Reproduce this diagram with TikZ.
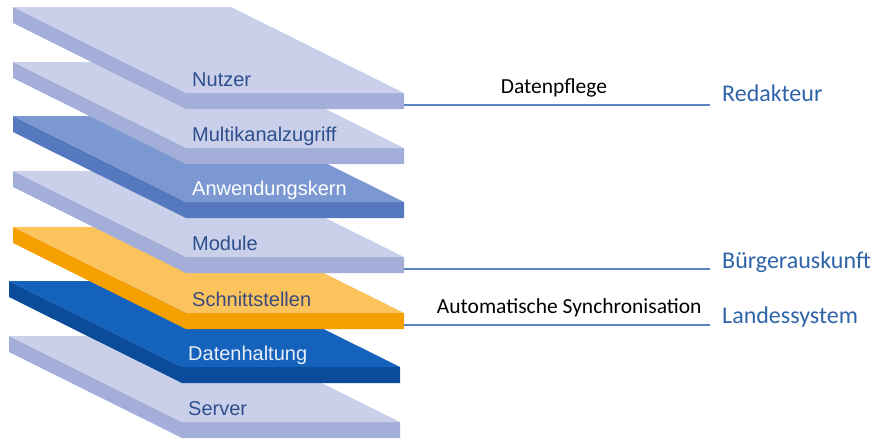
\documentclass[tikz,border=0pt]{standalone}
\usepackage{fontspec}
\setmainfont{Liberation Sans}
\newfontfamily\calibrifont{Carlito}
\definecolor{lightTop}{HTML}{CBD0EA}
\definecolor{lightSide}{HTML}{A4AFD9}
\definecolor{midTop}{HTML}{7B98D3}
\definecolor{midSide}{HTML}{5578BE}
\definecolor{orTop}{HTML}{FBC35C}
\definecolor{orSide}{HTML}{F5A000}
\definecolor{dkTop}{HTML}{1562BC}
\definecolor{dkSide}{HTML}{0A4C9A}
\definecolor{labBlue}{HTML}{2D4F8E}
\definecolor{labOr}{HTML}{3B4A7A}
\definecolor{labDk}{HTML}{E8EEF8}
\definecolor{connCol}{HTML}{5B84C4}
\definecolor{actorCol}{HTML}{2E64A8}
\newcommand{\drawslab}[7]{%
  \fill[#5] (#2,#3) -- ++(173,86) -- ++(218,0) -- ++(0,16) -- ++(-218,0) -- ++(-173,-86) -- cycle;
  \fill[#4] (#2,#3) -- ++(218,0) -- ++(173,86) -- ++(-218,0) -- cycle;
  \node[laytext, text=#6] (#1) at (#2+179,#3+79) {#7};
  \coordinate (#1R) at (#2+391,#3+98);
}
\begin{document}
\begin{tikzpicture}[x=1pt,y=-1pt,
  laytext/.style={font=\fontsize{20}{21}\selectfont, anchor=base west, inner sep=0pt},
  actor/.style={font=\calibrifont\fontsize{24}{25}\selectfont, text=actorCol, anchor=base west, inner xsep=12pt, inner ysep=0pt},
  conn/.style={draw=connCol, line width=1.4pt},
  edgelabel/.style={font=\calibrifont\fontsize{21.5}{22}\selectfont, text=black, anchor=base, inner sep=0pt, yshift=12pt}]
\useasboundingbox[fill=white] (0,0) rectangle (880,439);
\drawslab{server}{9}{336}{lightTop}{lightSide}{labBlue}{Server}
\drawslab{daten}{9}{281}{dkTop}{dkSide}{labDk}{Datenhaltung}
\drawslab{schnitt}{13}{227}{orTop}{orSide}{labOr}{Schnittstellen}
\drawslab{module}{13}{171}{lightTop}{lightSide}{labBlue}{Module}
\drawslab{anw}{13}{116}{midTop}{midSide}{white}{Anwendungskern}
\drawslab{multi}{13}{62}{lightTop}{lightSide}{labBlue}{Multikanalzugriff}
\drawslab{nutzer}{13}{7}{lightTop}{lightSide}{labBlue}{Nutzer}
\node[actor] (redakteur) at (710,101) {Redakteur};
\node[actor] (buerger) at (710,268) {Bürgerauskunft};
\node[actor] (land) at (710,323) {Landessystem};
\draw[conn] (nutzerR) -- node[edgelabel, pos=0.49] (pflege) {Datenpflege} (nutzerR -| redakteur.west);
\draw[conn] (moduleR) -- (moduleR -| buerger.west);
\draw[conn] (schnittR) -- node[edgelabel, pos=0.54] (sync) {Automatische Synchronisation} (schnittR -| land.west);
\end{tikzpicture}
\end{document}
